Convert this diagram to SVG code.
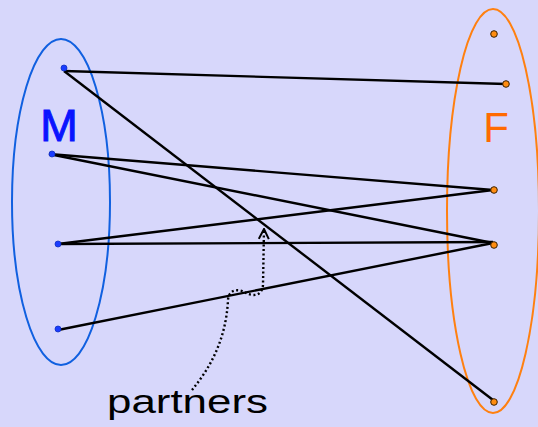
<svg xmlns="http://www.w3.org/2000/svg" width="538" height="427" viewBox="0 0 538 427">
<defs>
<style>
.bg{fill:#d7d7fb}
.set{fill:none;stroke-width:2}
.edge{stroke:#000;stroke-width:2.4;fill:none}
.mdot{fill:#1a3cff;stroke:#1030c0;stroke-width:0.8}
.fdot{fill:#ff8c10;stroke:#3a2000;stroke-width:1}
.lbl{font-family:"Liberation Sans",Arial,sans-serif}
</style>
<marker id="ah" viewBox="0 0 12 12" refX="11" refY="6" markerWidth="12" markerHeight="12" markerUnits="userSpaceOnUse" orient="auto">
<path d="M1,1 L11,6 L1,11" fill="none" stroke="#000" stroke-width="2"/>
</marker>
</defs>
<rect class="bg" x="0" y="0" width="538" height="427"/>
<g id="setM">
<ellipse class="set" cx="61" cy="202" rx="49" ry="163" stroke="#1060e0"/>
<text class="lbl" x="59" y="141" font-size="45" fill="#0a14ff" stroke="#0a14ff" stroke-width="1" text-anchor="middle">M</text>
</g>
<g id="setF">
<ellipse class="set" cx="493" cy="211" rx="46" ry="202" stroke="#ff8010"/>
<text class="lbl" x="496" y="142" font-size="42" fill="#ff6a00" text-anchor="middle">F</text>
</g>
<g id="connectors">
<line class="edge" x1="64" y1="71" x2="506" y2="84"/>
<line class="edge" x1="64" y1="71" x2="493" y2="400"/>
<line class="edge" x1="49" y1="154" x2="493" y2="190"/>
<line class="edge" x1="49" y1="154" x2="493" y2="243"/>
<line class="edge" x1="58" y1="244" x2="493" y2="190"/>
<line class="edge" x1="58" y1="244" x2="493" y2="242"/>
<line class="edge" x1="58" y1="330" x2="493" y2="243"/>
<path d="M192,390 C210,368 226,340 228,300 C229,288 240,289 246,293 C252,296 262,297 263,285 L264,229" fill="none" stroke="#000" stroke-width="2.4" stroke-dasharray="2,2.5" marker-end="url(#ah)"/>
</g>
<g id="m1"><circle class="mdot" cx="64" cy="68" r="3"/></g>
<g id="m2"><circle class="mdot" cx="52" cy="154" r="3"/></g>
<g id="m3"><circle class="mdot" cx="58" cy="244" r="3"/></g>
<g id="m4"><circle class="mdot" cx="58" cy="329" r="3"/></g>
<g id="f1"><circle class="fdot" cx="494" cy="34" r="3.3"/></g>
<g id="f2"><circle class="fdot" cx="506" cy="84" r="3.3"/></g>
<g id="f3"><circle class="fdot" cx="494" cy="190" r="3.3"/></g>
<g id="f4"><circle class="fdot" cx="494" cy="245" r="3.3"/></g>
<g id="f5"><circle class="fdot" cx="494" cy="402" r="3.3"/></g>
<g id="partners">
<text class="lbl" x="107" y="413" font-size="34" fill="#000" textLength="161" lengthAdjust="spacingAndGlyphs">partners</text>
</g>
</svg>
